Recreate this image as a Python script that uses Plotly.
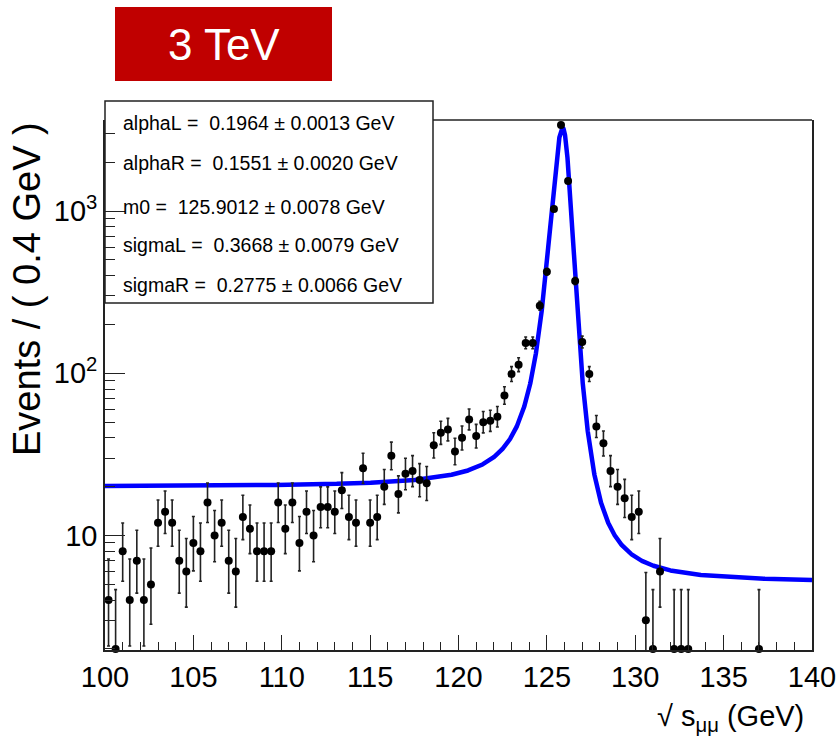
import math
import numpy as np
import plotly.graph_objects as go

# ---- binned dimuon mass spectrum (0.4 GeV bins, 100-140 GeV) ----
bin_low = 100.0
bin_width = 0.4
counts = [
    4, 2, 8, 4, 7, 4, 5, 12, 14, 12,
    7, 6, 9, 8, 16, 10, 12, 7, 6, 13,
    11, 8, 8, 8, 16, 11, 16, 9, 14, 10,
    15, 15, 14, 19, 13, 12, 26, 12, 13, 20,
    31, 18, 24, 25, 22, 21, 36, 43, 45, 33,
    40, 52, 41, 50, 51, 54, 73, 99, 113, 154,
    154, 261, 423, 1029, 3397, 1534, 371, 156, 99, 47,
    37, 25, 20, 17, 13, 14, 3, 2, 6, 0,
    2, 2, 2, 0, 0, 0, 0, 0, 0, 0,
    0, 0, 2, 0, 0, 0, 0, 0, 0, 0,
]

# ---- Cruijff fit result ----
fit_params = {
    "alphaL": (0.1964, 0.0013),
    "alphaR": (0.1551, 0.0020),
    "m0": (125.9012, 0.0078),
    "sigmaL": (0.3668, 0.0079),
    "sigmaR": (0.2775, 0.0066),
}
peak_height = 3250.0  # curve normalisation (events / bin at m0)

x_ticks = [100, 105, 110, 115, 120, 125, 130, 135, 140]
y_tickvals = [10, 100, 1000]
y_ticktext = ["10", "10<sup>2</sup>", "10<sup>3</sup>"]

FONT = "Liberation Sans, Arial, sans-serif"


def pois_cdf(n, mu):
    if n < 0:
        return 0.0
    if mu <= 0:
        return 1.0
    lm = math.log(mu)
    return sum(math.exp(-mu + k * lm - math.lgamma(k + 1)) for k in range(n + 1))


def solve(fn, target, lo, hi):
    # fn is decreasing in mu
    for _ in range(80):
        mid = 0.5 * (lo + hi)
        if fn(mid) > target:
            lo = mid
        else:
            hi = mid
    return 0.5 * (lo + hi)


def poisson_interval(n, cl=0.682689):
    a = (1.0 - cl) / 2.0
    hi_lim = n + 10 * math.sqrt(n + 1) + 10
    up = solve(lambda m: pois_cdf(n, m), a, 0.0, hi_lim)
    if n == 0:
        lo = 0.0
    else:
        lo = solve(lambda m: pois_cdf(n - 1, m), 1 - a, 0.0, hi_lim)
    return n - lo, up - n


centers = bin_low + bin_width * (np.arange(len(counts)) + 0.5)
y_pts, e_lo, e_hi = [], [], []
for c in counts:
    if c > 0:
        dlo, dhi = poisson_interval(c)
        y_pts.append(c)
        e_lo.append(dlo)
        e_hi.append(dhi)
    else:
        y_pts.append(None)
        e_lo.append(None)
        e_hi.append(None)


def cruijff(x, p):
    m0 = p["m0"][0]
    dx = x - m0
    sig = np.where(dx < 0, p["sigmaL"][0], p["sigmaR"][0])
    alp = np.where(dx < 0, p["alphaL"][0], p["alphaR"][0])
    return np.exp(-dx * dx / (2 * sig * sig + alp * dx * dx))


xf = np.linspace(100, 140, 8001)
yf = peak_height * cruijff(xf, fit_params)

fig = go.Figure()

# fitted curve
fig.add_trace(go.Scatter(
    x=xf, y=yf, mode="lines",
    line=dict(color="#0000ff", width=4.5),
    hoverinfo="skip", showlegend=False,
))

# error bars (clipped to the frame)
fig.add_trace(go.Scatter(
    x=centers, y=y_pts, mode="markers",
    marker=dict(size=1, color="rgba(0,0,0,0)"),
    error_y=dict(type="data", symmetric=False, array=e_hi, arrayminus=e_lo,
                 color="#222222", thickness=1.6, width=1.5),
    showlegend=False, cliponaxis=True,
))

# data points
fig.add_trace(go.Scatter(
    x=centers, y=y_pts, mode="markers",
    marker=dict(size=8, color="black"),
    showlegend=False, cliponaxis=False,
))

W, H = 837, 748
L, R, T, B = 105, 25, 120, 98
pw, ph = W - L - R, H - T - B


def px_x(px):
    return (px - L) / pw


def px_y(py):
    return (H - B - py) / ph


ymin, ymax = 1.97, 3642.0

fig.update_layout(
    width=W, height=H, autosize=False,
    margin=dict(l=L, r=R, t=T, b=B, pad=0, autoexpand=False),
    paper_bgcolor="white", plot_bgcolor="white",
    font=dict(family=FONT, color="black"),
    xaxis=dict(
        range=[100, 140], tickmode="array", tickvals=x_ticks,
        ticks="inside", ticklen=15, tickwidth=1.3, tickcolor="#222",
        showline=True, linecolor="#222", linewidth=1.6, mirror=False,
        showgrid=False, zeroline=False, ticklabeloverflow="allow",
        automargin=False,
        tickfont=dict(family=FONT, size=29, color="black"),
        minor=dict(dtick=1, tick0=100, ticks="inside", ticklen=8,
                   tickwidth=1.2, tickcolor="#222", showgrid=False),
    ),
    yaxis=dict(
        type="log", range=[math.log10(ymin), math.log10(ymax)],
        tickmode="array", tickvals=y_tickvals, ticktext=y_ticktext,
        ticks="inside", ticklen=20, tickwidth=1.3, tickcolor="#222",
        showline=True, linecolor="#222", linewidth=1.6, mirror=True,
        showgrid=False, zeroline=False, ticklabeloverflow="allow",
        automargin=False,
        tickfont=dict(family=FONT, size=29, color="black"),
        minor=dict(
            tickmode="array",
            tickvals=[m * 10 ** e for e in range(0, 4) for m in range(2, 10)
                      if ymin <= m * 10 ** e <= ymax],
            ticks="inside", ticklen=10, tickwidth=1.2, tickcolor="#222",
            showgrid=False),
    ),
)

box_x1 = px_x(433)
shapes = [
    # parameter box
    dict(type="rect", xref="paper", yref="paper",
         x0=0, x1=box_x1, y0=px_y(303), y1=px_y(101),
         line=dict(color="#222", width=1.5), fillcolor="white", layer="below"),
    # upper frame edge to the right of the box
    dict(type="line", xref="paper", yref="paper",
         x0=box_x1, x1=1, y0=1, y1=1,
         line=dict(color="#222", width=1.6)),
    # energy badge
    dict(type="rect", xref="paper", yref="paper",
         x0=px_x(115), x1=px_x(332), y0=px_y(81), y1=px_y(7),
         line=dict(width=0), fillcolor="#c00000"),
]

nb = "\u00a0"
lines = []
for name, (val, err) in fit_params.items():
    lines.append(f"{name}{nb}={nb}{nb}{val:.4f}{nb}±{nb}{err:.4f}{nb}GeV")

line_y = [123, 163, 206.5, 245, 285]
annotations = []
for txt, yy in zip(lines, line_y):
    annotations.append(dict(
        text=txt, xref="paper", yref="paper", x=px_x(121), y=px_y(yy),
        xanchor="left", yanchor="middle", showarrow=False,
        font=dict(family=FONT, size=19.5, color="black"),
    ))

annotations += [
    dict(text="3 TeV", xref="paper", yref="paper",
         x=px_x(223.5), y=px_y(45), xanchor="center", yanchor="middle",
         showarrow=False, font=dict(family=FONT, size=44, color="white")),
    dict(text="Events / ( 0.4 GeV )", xref="paper", yref="paper",
         x=px_x(27), y=px_y(289), xanchor="center", yanchor="middle",
         textangle=-90, showarrow=False,
         font=dict(family=FONT, size=38, color="black")),
    dict(text="√ s<sub>μμ</sub> (GeV)", xref="paper", yref="paper",
         x=px_x(806), y=px_y(718), xanchor="right", yanchor="middle",
         showarrow=False, font=dict(family=FONT, size=29, color="black")),
]

fig.update_layout(shapes=shapes, annotations=annotations)

fig.write_html("out.html")
